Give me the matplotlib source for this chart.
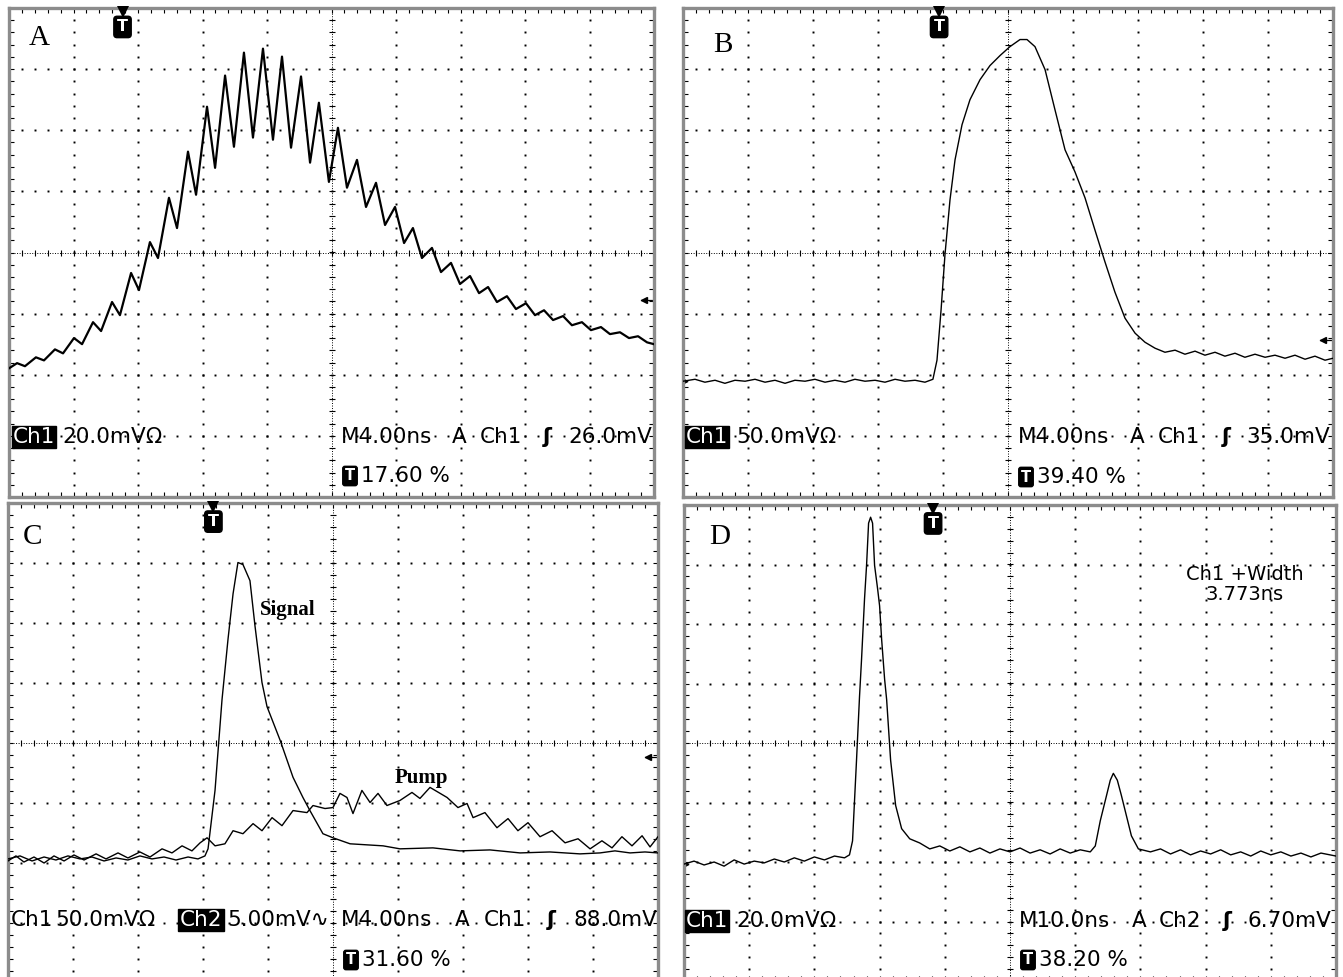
import matplotlib
matplotlib.use("Agg")
import matplotlib.pyplot as plt
import numpy as np
from matplotlib.ticker import MultipleLocator

# ---------------- data ----------------
panel_labels = ["A", "B", "C", "D"]
ns_per_div = [4.0, 4.0, 4.0, 10.0]
mv_per_div = [20.0, 50.0, 50.0, 20.0]
ch2_mv_per_div = 5.0
trigger_pct = [17.60, 39.40, 31.60, 38.20]

# Panel A  (Ch1 20.0 mV/div, 4.00 ns/div)
a_time_ns = [0.00, 0.50, 0.99, 1.67, 2.17, 2.85, 3.35, 4.03, 4.53, 5.21,
             5.71, 6.39, 6.88, 7.57, 8.06, 8.74, 9.24, 9.92, 10.42, 11.10,
             11.60, 12.28, 12.78, 13.40, 13.95, 14.57, 15.13, 15.75, 16.37, 16.93,
             17.49, 18.11, 18.67, 19.22, 19.84, 20.40, 20.96, 21.58, 22.14, 22.76,
             23.32, 23.94, 24.50, 25.05, 25.61, 26.23, 26.79, 27.41, 27.97, 28.59,
             29.15, 29.71, 30.26, 30.88, 31.44, 32.06, 32.62, 33.18, 33.74, 34.36,
             34.91, 35.53, 36.09, 36.71, 37.27, 37.89, 38.45, 39.01, 39.57, 40.00]
a_volt_mV = [-37.9, -36.2, -37.2, -34.3, -35.3, -31.7, -33.0, -28.0, -30.0, -22.8,
             -25.7, -16.2, -20.5, -6.7, -12.3, 3.4, -1.8, 17.9, 8.0, 33.0,
             18.9, 47.7, 27.7, 57.9, 34.6, 65.4, 37.6, 66.7, 36.9, 64.1,
             34.3, 57.6, 29.4, 49.0, 23.1, 40.8, 21.2, 30.3, 14.9, 22.8,
             9.0, 14.9, 3.1, 8.0, -1.8, 1.5, -6.4, -3.4, -10.3, -7.7,
             -13.3, -11.3, -16.2, -14.3, -18.5, -16.6, -20.5, -18.9, -22.1, -20.8,
             -23.8, -22.8, -25.4, -24.4, -26.7, -26.1, -28.0, -27.4, -29.4, -30.0]

# Panel B  (Ch1 50.0 mV/div, 4.00 ns/div)
b_time_ns = [0.00, 0.74, 1.35, 1.97, 2.58, 3.20, 3.82, 4.43, 5.05, 5.66,
             6.28, 6.89, 7.51, 8.12, 8.74, 9.35, 9.97, 10.58, 11.20, 11.82,
             12.43, 13.05, 13.66, 14.28, 14.89, 15.38,
             15.63, 15.88, 16.12, 16.43, 16.74, 17.17, 17.66, 18.28, 18.89, 19.51,
             20.12, 20.74, 21.17, 21.66, 22.28, 22.89, 23.51, 24.12, 24.74, 25.35,
             25.97, 26.58, 27.20, 27.82, 28.43, 29.05,
             29.66, 30.28, 30.89, 31.51, 32.12, 32.74, 33.35, 33.97, 34.58, 35.20,
             35.82, 36.43, 37.05, 37.66, 38.28, 38.89, 39.51, 40.00]
b_volt_mV = [-105.3, -103.7, -106.1, -104.5, -107.0, -104.5, -105.3, -103.7, -106.1, -104.5,
             -107.0, -104.5, -105.3, -103.7, -106.1, -104.5, -106.1, -103.7, -105.3, -104.5,
             -106.1, -103.7, -105.3, -104.5, -106.1, -103.7,
             -88.1, -47.1, -2.0, 43.0, 75.8, 104.5, 125.0, 141.4, 152.9, 161.1,
             168.4, 174.2, 174.2, 168.4, 149.6, 116.8, 84.0, 66.0, 44.7, 18.4,
             -7.8, -32.4, -53.7, -66.0, -73.4, -78.3,
             -81.6, -79.9, -83.2, -80.7, -84.0, -81.6, -84.8, -82.4, -85.7, -83.2,
             -85.7, -84.0, -86.5, -84.0, -87.3, -84.8, -88.1, -86.5]

# Panel C  signal: Ch1 50.0 mV/div ; pump: Ch2 5.00 mV/div ; 4.00 ns/div
c_sig_time_ns = [0.00, 0.74, 1.48, 2.22, 2.95, 3.69, 4.43, 5.17, 5.91, 6.65,
                 7.38, 8.12, 8.86, 9.60, 10.34, 11.08, 11.69, 12.12,
                 12.31, 12.74, 13.17, 13.54, 13.85, 14.15, 14.46, 14.89, 15.20, 15.63,
                 15.94, 16.74, 17.54, 18.15, 18.58, 19.38, 20.00, 21.05, 23.08, 24.12,
                 26.15, 27.82, 29.66, 31.51, 33.35, 35.20, 36.43, 37.35, 38.28, 39.20,
                 40.00]
c_sig_mV = [-96.6, -94.1, -98.3, -95.0, -97.5, -94.1, -96.6, -95.0, -98.3, -95.8,
            -97.5, -94.1, -96.6, -95.0, -97.5, -95.0, -96.6, -94.1,
            -88.2, -39.5, 36.1, 86.6, 124.4, 150.4, 148.7, 135.3, 97.5, 50.4,
            30.3, 2.5, -28.6, -45.4, -56.3, -75.6, -79.0, -84.0, -85.7, -88.2,
            -87.4, -89.9, -89.1, -91.6, -90.8, -92.4, -91.6, -89.9, -91.6, -90.8,
            -91.6]
c_pump_time_ns = [0.00, 0.49, 0.98, 1.60, 2.22, 2.83, 3.45, 4.06, 4.68, 5.42,
                  6.03, 6.77, 7.38, 8.12, 8.74, 9.48, 10.09, 10.71, 11.32, 11.82,
                  12.25, 12.74, 13.35, 13.85, 14.46, 15.08, 15.63, 16.25, 16.86, 17.54,
                  18.40, 18.77, 19.51, 20.00, 20.43, 20.86, 21.23, 21.78, 22.28, 22.77,
                  23.32, 24.12, 24.86, 25.35, 25.97, 27.02, 27.69, 28.25, 28.62, 29.35,
                  30.09, 30.77, 31.38, 32.00, 32.74, 33.48, 34.28, 35.08, 35.82, 36.55,
                  37.17, 37.78, 38.40, 39.02, 39.51, 40.00]
c_pump_mV = [-9.83, -9.41, -9.92, -9.50, -10.00, -9.41, -9.83, -9.33, -9.75, -9.24,
             -9.66, -9.16, -9.58, -9.08, -9.50, -8.82, -9.16, -8.57, -8.99, -8.32,
             -7.90, -8.57, -8.40, -7.31, -7.56, -6.72, -7.31, -6.22, -6.89, -5.63,
             -5.80, -5.21, -5.46, -5.38, -4.20, -4.54, -5.88, -3.95, -4.96, -4.20,
             -5.21, -4.79, -4.12, -4.62, -3.70, -4.54, -5.38, -5.04, -6.22, -5.80,
             -7.06, -6.30, -7.31, -6.64, -7.81, -7.31, -8.32, -7.98, -8.82, -8.15,
             -8.74, -7.81, -8.57, -7.73, -8.66, -7.81]

# Panel D  (Ch1 20.0 mV/div, 10.0 ns/div)
d_time_ns = [0.00, 1.54, 3.08, 4.62, 6.15, 7.69, 9.23, 10.77, 12.31, 13.85,
             15.38, 16.92, 18.46, 20.00, 21.54, 23.08, 24.62, 25.38, 25.85, 26.46,
             26.92, 27.23, 27.69, 28.00, 28.31, 28.62, 28.92, 29.23, 29.69, 30.00,
             30.31, 30.77, 31.08, 31.69, 32.46, 33.38, 34.62, 36.15, 37.69, 39.23,
             40.77, 42.31, 43.85, 45.38, 46.92, 48.46, 50.00, 51.54, 53.08, 54.62,
             56.15, 57.69, 59.23, 60.77, 62.31, 63.08, 63.85, 64.62, 65.38, 65.85,
             66.46, 67.08, 67.85, 68.62, 69.69, 71.54, 73.08, 74.62, 76.15, 77.69,
             79.23, 80.77, 82.31, 83.85, 85.38, 86.92, 88.46, 90.00, 91.54, 93.08,
             94.62, 96.15, 97.69, 100.00]
d_volt_mV = [-40.7, -39.7, -41.0, -40.0, -41.4, -39.3, -40.7, -39.7, -40.3, -39.0,
             -40.0, -38.6, -39.7, -38.3, -39.3, -38.0, -38.6, -37.6, -32.9, -5.8,
             15.6, 28.1, 48.5, 59.7, 73.9, 75.9, 73.9, 59.7, 51.9, 46.1,
             34.9, 21.4, 14.6, -5.8, -21.0, -28.8, -32.2, -33.6, -35.6, -34.6,
             -36.3, -34.9, -36.6, -35.3, -37.0, -35.6, -36.6, -35.3, -37.0, -35.9,
             -37.3, -35.6, -37.0, -35.9, -36.6, -34.6, -26.1, -19.3, -12.5, -10.2,
             -12.5, -17.6, -24.4, -31.2, -35.6, -36.6, -35.6, -37.3, -35.9, -37.6,
             -36.3, -37.3, -35.9, -37.6, -36.6, -38.0, -36.3, -37.6, -36.6, -38.0,
             -37.0, -38.3, -37.0, -38.0]

# ---------------- figure ----------------
plt.rcParams['font.family'] = ['DejaVu Sans']
W, H = 1343, 977
fig = plt.figure(figsize=(W / 100, H / 100), dpi=100)
fig.patch.set_facecolor('white')


def pos_of(x0, y0, x1, y1):
    return [x0 / W, 1 - y1 / H, (x1 - x0) / W, (y1 - y0) / H]


def graticule(rect, trig_pct, level_y=None, gnd_y=None):
    g = fig.add_axes(pos_of(*rect), zorder=0)
    g.set_xlim(0, 10)
    g.set_ylim(-4, 4)
    g.set_facecolor('white')
    ys = np.arange(-4, 4.001, 0.2)
    xs = np.arange(0, 10.001, 0.2)
    for xv in [1, 2, 3, 4, 6, 7, 8, 9]:
        g.plot(np.full(len(ys), xv), ys, ls='none', marker='s', ms=1.4,
               mew=0, color='black')
    for yv in [-3, -2, -1, 1, 2, 3]:
        g.plot(xs, np.full(len(xs), yv), ls='none', marker='s', ms=1.4,
               mew=0, color='black')
    g.axvline(5, color='black', lw=0.7, ls=(0, (1, 1.6)))
    g.axhline(0, color='black', lw=0.7, ls=(0, (1, 1.6)))
    g.plot(np.full(len(ys), 5), ys, ls='none', marker='_', ms=5, mew=0.8,
           color='black')
    g.plot(xs, np.zeros(len(xs)), ls='none', marker='|', ms=5, mew=0.8,
           color='black')
    g.xaxis.set_major_locator(MultipleLocator(1))
    g.xaxis.set_minor_locator(MultipleLocator(0.2))
    g.yaxis.set_major_locator(MultipleLocator(1))
    g.yaxis.set_minor_locator(MultipleLocator(0.2))
    g.tick_params(which='both', direction='in', length=3.5, width=0.8,
                  color='black', top=True, right=True, bottom=True, left=True,
                  labelbottom=False, labelleft=False)
    for s in g.spines.values():
        s.set_color('#8c8c8c')
        s.set_linewidth(2.4)
    # trigger position marker
    xt = trig_pct / 10.0
    g.text(xt, 3.69, 'T', ha='center', va='center', color='white',
           fontsize=11.5, fontweight='bold', zorder=4,
           bbox=dict(boxstyle='round,pad=0.2', fc='black', ec='black'))
    g.plot(xt, 3.93, marker='v', ms=8.5, color='black', mew=0, zorder=5,
           clip_on=False)
    if level_y is not None:
        g.plot([9.8, 9.97], [level_y, level_y], color='black', lw=0.9)
        g.plot(9.84, level_y, marker='<', ms=5, color='black')
    if gnd_y is not None:
        g.plot(0.03, gnd_y, marker='>', ms=3.5, color='black', clip_on=False)
    return g


def data_axes(rect, xlim, ylim):
    d = fig.add_axes(pos_of(*rect), zorder=1)
    d.set_xlim(*xlim)
    d.set_ylim(*ylim)
    d.axis('off')
    d.patch.set_visible(False)
    return d


rects = [(9, 8, 654, 497), (683, 8, 1333, 497), (8, 503, 658, 983), (684, 505, 1336, 981)]

# Panel A
graticule(rects[0], trigger_pct[0], level_y=-0.78)
da = data_axes(rects[0], (0, 10 * ns_per_div[0]), (-4 * mv_per_div[0], 4 * mv_per_div[0]))
da.plot(a_time_ns, a_volt_mV, color='black', lw=1.6, solid_joinstyle='round')

# Panel B
graticule(rects[1], trigger_pct[1], level_y=-1.43, gnd_y=-2.1)
db = data_axes(rects[1], (0, 10 * ns_per_div[1]), (-4 * mv_per_div[1], 4 * mv_per_div[1]))
db.plot(b_time_ns, b_volt_mV, color='black', lw=1.0)

# Panel C
graticule(rects[2], trigger_pct[2], level_y=-0.24)
dc = data_axes(rects[2], (0, 10 * ns_per_div[2]), (-4 * mv_per_div[2], 4 * mv_per_div[2]))
dc.plot(c_sig_time_ns, c_sig_mV, color='black', lw=1.0)
dc2 = data_axes(rects[2], (0, 10 * ns_per_div[2]), (-4 * ch2_mv_per_div, 4 * ch2_mv_per_div))
dc2.plot(c_pump_time_ns, c_pump_mV, color='black', lw=1.0)

# Panel D
graticule(rects[3], trigger_pct[3], gnd_y=-2.03)
dd = data_axes(rects[3], (0, 10 * ns_per_div[3]), (-4 * mv_per_div[3], 4 * mv_per_div[3]))
dd.plot(d_time_ns, d_volt_mV, color='black', lw=1.0)


# ---------------- texts ----------------
def ftxt(x, y, s, **kw):
    kw.setdefault('va', 'center')
    return fig.text(x / W, 1 - y / H, s, **kw)


FS = 15.5
serif = ['Liberation Serif', 'DejaVu Serif']
box = dict(boxstyle='square,pad=0.06', fc='black', ec='black')
tbox = dict(boxstyle='round,pad=0.15', fc='black', ec='black')
TFS = 10.5

for lbl, (x, y) in zip(panel_labels, [(39, 38), (723, 45), (33, 537), (720, 537)]):
    ftxt(x, y, lbl, ha='center', fontsize=21, family=serif)

ftxt(288, 610, 'Signal', ha='center', fontsize=15, fontweight='bold', family=serif)
ftxt(421, 778, 'Pump', ha='center', fontsize=15, fontweight='bold', family=serif)

# A readouts
ftxt(34, 437, 'Ch1', ha='center', fontsize=FS, color='white', bbox=box)
ftxt(62, 437, '20.0mVΩ', ha='left', fontsize=FS)
ftxt(341, 437, 'M4.00ns', ha='left', fontsize=FS)
ftxt(459, 437, 'A', ha='center', fontsize=FS)
ftxt(480, 437, 'Ch1', ha='left', fontsize=FS)
ftxt(547, 437, 'ʃ', ha='center', fontsize=FS, fontweight='bold')
ftxt(652, 437, '26.0mV', ha='right', fontsize=FS)
ftxt(350, 476, 'T', ha='center', fontsize=TFS, color='white', fontweight='bold', bbox=tbox)
ftxt(361, 476, '17.60 %', ha='left', fontsize=FS)

# B readouts
ftxt(707, 437, 'Ch1', ha='center', fontsize=FS, color='white', bbox=box)
ftxt(736, 437, '50.0mVΩ', ha='left', fontsize=FS)
ftxt(1018, 437, 'M4.00ns', ha='left', fontsize=FS)
ftxt(1137, 437, 'A', ha='center', fontsize=FS)
ftxt(1158, 437, 'Ch1', ha='left', fontsize=FS)
ftxt(1226, 437, 'ʃ', ha='center', fontsize=FS, fontweight='bold')
ftxt(1330, 437, '35.0mV', ha='right', fontsize=FS)
ftxt(1026, 477, 'T', ha='center', fontsize=TFS, color='white', fontweight='bold', bbox=tbox)
ftxt(1037, 477, '39.40 %', ha='left', fontsize=FS)

# C readouts
ftxt(11, 920, 'Ch1', ha='left', fontsize=FS)
ftxt(55, 920, '50.0mVΩ', ha='left', fontsize=FS)
ftxt(201, 920, 'Ch2', ha='center', fontsize=FS, color='white', bbox=box)
ftxt(227, 920, '5.00mV∿', ha='left', fontsize=FS)
ftxt(341, 920, 'M4.00ns', ha='left', fontsize=FS)
ftxt(462, 920, 'A', ha='center', fontsize=FS)
ftxt(484, 920, 'Ch1', ha='left', fontsize=FS)
ftxt(551, 920, 'ʃ', ha='center', fontsize=FS, fontweight='bold')
ftxt(657, 920, '88.0mV', ha='right', fontsize=FS)
ftxt(351, 960, 'T', ha='center', fontsize=TFS, color='white', fontweight='bold', bbox=tbox)
ftxt(362, 960, '31.60 %', ha='left', fontsize=FS)

# D readouts
ftxt(707, 921, 'Ch1', ha='center', fontsize=FS, color='white', bbox=box)
ftxt(736, 921, '20.0mVΩ', ha='left', fontsize=FS)
ftxt(1019, 921, 'M10.0ns', ha='left', fontsize=FS)
ftxt(1139, 921, 'A', ha='center', fontsize=FS)
ftxt(1159, 921, 'Ch2', ha='left', fontsize=FS)
ftxt(1227, 921, 'ʃ', ha='center', fontsize=FS, fontweight='bold')
ftxt(1331, 921, '6.70mV', ha='right', fontsize=FS)
ftxt(1028, 960, 'T', ha='center', fontsize=TFS, color='white', fontweight='bold', bbox=tbox)
ftxt(1039, 960, '38.20 %', ha='left', fontsize=FS)
ftxt(1245, 575, 'Ch1 +Width', ha='center', fontsize=14)
ftxt(1245, 594, '3.773ns', ha='center', fontsize=14)

fig.savefig('out.png', dpi=100, facecolor='white')
